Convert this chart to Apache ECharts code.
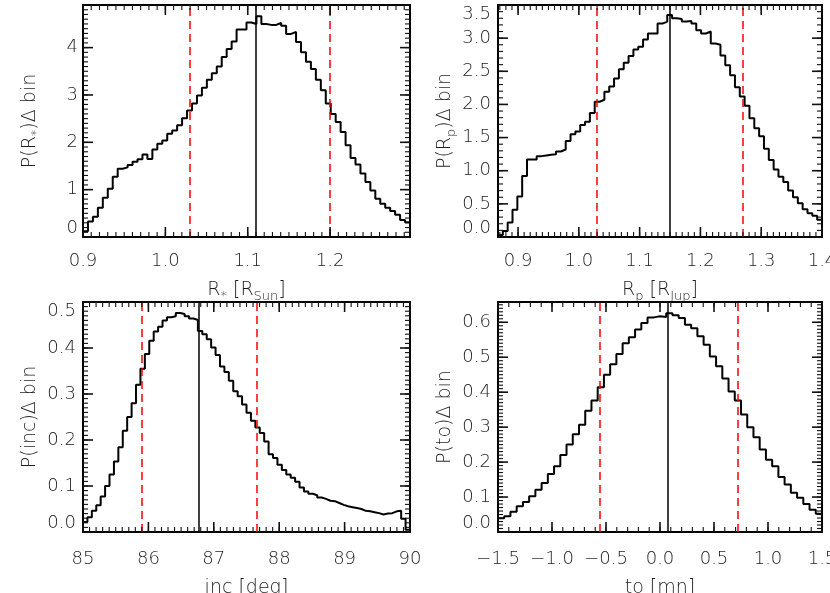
<!DOCTYPE html>
<html>
<head>
<meta charset="utf-8">
<script src="https://cdn.jsdelivr.net/npm/echarts@6/dist/echarts.min.js"></script>
<style>
  html, body { margin: 0; padding: 0; background: #fff; }
  #chart { width: 830px; height: 593px; }
</style>
</head>
<body>
<div id="chart"></div>
<script>
// ---- data ----
// R_star [R_Sun]
var rstarHist = [0.12, 0.33, 0.43, 0.62, 0.83, 1.02, 1.27, 1.44, 1.47, 1.52,
                 1.59, 1.64, 1.74, 1.65, 1.85, 1.97, 2.04, 2.18, 2.25, 2.36,
                 2.51, 2.67, 2.82, 2.99, 3.15, 3.32, 3.46, 3.60, 3.80, 3.97,
                 4.13, 4.38, 4.38, 4.53, 4.50, 4.66, 4.50, 4.48, 4.48, 4.52,
                 4.46, 4.29, 4.33, 4.12, 3.90, 3.70, 3.55, 3.32, 3.10, 2.82,
                 2.60, 2.43, 2.22, 1.94, 1.67, 1.53, 1.34, 1.16, 0.98, 0.81,
                 0.70, 0.62, 0.55, 0.47, 0.36, 0.31];
var rstarRange = [0.9, 1.297];
var rstarYMax = 4.9;
var rstarBest = 1.113;
var rstarLimits = [1.027, 1.199];

// R_p [R_Jup]
var rpHist = [0.03, 0.09, 0.22, 0.41, 0.61, 0.92, 1.17, 1.17, 1.22, 1.23,
              1.24, 1.25, 1.29, 1.32, 1.45, 1.55, 1.59, 1.69, 1.74, 1.87,
              2.04, 2.07, 2.19, 2.27, 2.39, 2.53, 2.63, 2.73, 2.83, 2.87,
              2.98, 3.07, 3.07, 3.22, 3.25, 3.35, 3.30, 3.29, 3.25, 3.26,
              3.22, 3.12, 3.07, 3.10, 2.92, 2.90, 2.74, 2.59, 2.44, 2.26,
              2.12, 1.98, 1.79, 1.64, 1.52, 1.33, 1.16, 1.02, 0.91, 0.83,
              0.70, 0.60, 0.51, 0.42, 0.36, 0.32, 0.26];
var rpRange = [0.867, 1.4];
var rpYMax = 3.5;
var rpBest = 1.150;
var rpLimits = [1.031, 1.269];

// inclination [deg]
var incHist = [0.022, 0.032, 0.046, 0.058, 0.077, 0.100, 0.125, 0.153, 0.184, 0.220,
               0.250, 0.280, 0.320, 0.355, 0.387, 0.416, 0.436, 0.446, 0.460, 0.467,
               0.469, 0.476, 0.474, 0.469, 0.464, 0.461, 0.437, 0.430, 0.419, 0.401,
               0.385, 0.360, 0.348, 0.329, 0.306, 0.295, 0.277, 0.259, 0.242, 0.227,
               0.215, 0.197, 0.169, 0.161, 0.146, 0.135, 0.125, 0.118, 0.109, 0.097,
               0.088, 0.083, 0.080, 0.075, 0.072, 0.068, 0.067, 0.063, 0.059, 0.056,
               0.054, 0.052, 0.050, 0.046, 0.045, 0.043, 0.041, 0.038, 0.040, 0.041,
               0.045, 0.046, 0.029, 0.005];
var incRange = [85, 90];
var incYMax = 0.5;
var incBest = 86.77;
var incLimits = [85.9, 87.65];

// to [mn]
var toHist = [0.039, 0.045, 0.058, 0.074, 0.086, 0.102, 0.121, 0.140, 0.166, 0.188,
              0.220, 0.250, 0.280, 0.307, 0.347, 0.376, 0.414, 0.450, 0.480, 0.509,
              0.540, 0.557, 0.579, 0.598, 0.614, 0.617, 0.615, 0.626, 0.620, 0.612,
              0.593, 0.583, 0.560, 0.536, 0.502, 0.474, 0.439, 0.402, 0.376, 0.336,
              0.300, 0.271, 0.236, 0.207, 0.188, 0.157, 0.136, 0.112, 0.098, 0.080,
              0.064, 0.052];
var toRange = [-1.5, 1.5];
var toYMax = 0.658;
var toBest = 0.07;
var toLimits = [-0.56, 0.72];

// ---- styling ----
var txtColor = '#1e1e1e';
var fontFam = 'DejaVu Sans';
var fontW = 200;

var nameRich = {
    t: { fontSize: 19, fontFamily: fontFam, fontWeight: fontW, color: txtColor, lineHeight: 22, verticalAlign: 'top' },
    s: { fontSize: 13, fontFamily: fontFam, fontWeight: fontW, color: txtColor, lineHeight: 14, padding: [14, 0, 0, 0], verticalAlign: 'bottom' }
};

function fmt(d) {
    return function (v) {
        var s = Math.abs(v).toFixed(d);
        return v < -1e-9 ? '\u2212' + s : s;
    };
}

// histogram -> step line points (left bin edges + closing point)
function stepData(hist, range) {
    var w = (range[1] - range[0]) / hist.length;
    var pts = hist.map(function (v, i) { return [range[0] + i * w, v]; });
    pts.push([range[1], hist[hist.length - 1]]);
    return pts;
}

// multiples of step inside range (frame tick positions)
function multiples(range, step) {
    var out = [];
    var k0 = Math.ceil(range[0] / step - 1e-6), k1 = Math.floor(range[1] / step + 1e-6);
    for (var k = k0; k <= k1; k++) out.push(+(k * step).toFixed(6));
    return out;
}

// xStep null -> let echarts pick (axis min is not a round number there)
var panels = [
    { hist: rstarHist, xr: rstarRange, ymax: rstarYMax, best: rstarBest, lim: rstarLimits,
      xStep: 0.1, yStep: 1, xMinor: 0.01, yMinor: 0.1, xFmt: fmt(1), yFmt: fmt(0),
      xName: '{t|R}{s|*}{t| [R}{s|Sun}{t|]}', yName: '{t|P(R}{s|*}{t|)\u0394 bin}',
      grid: { left: 83, top: 5, width: 327, height: 232 }, xMargin: 15, yMargin: 5, nameGap: 44,
      yMaxTop: false, xMaxLabel: false, autoX: false },
    { hist: rpHist, xr: rpRange, ymax: rpYMax, best: rpBest, lim: rpLimits,
      xStep: 0.1, yStep: 0.5, xMinor: 0.01, yMinor: 0.1, xFmt: fmt(1), yFmt: fmt(1),
      xName: '{t|R}{s|p}{t| [R}{s|Jup}{t|]}', yName: '{t|P(R}{s|p}{t|)\u0394 bin}',
      grid: { left: 498, top: 5, width: 324, height: 232 }, xMargin: 15, yMargin: 7, nameGap: 44,
      yMaxTop: true, xMaxLabel: true, autoX: true },
    { hist: incHist, xr: incRange, ymax: incYMax, best: incBest, lim: incLimits,
      xStep: 1, yStep: 0.1, xMinor: 0.1, yMinor: 0.01, xFmt: fmt(0), yFmt: fmt(1),
      xName: '{t|inc [deg]}', yName: '{t|P(inc)\u0394 bin}',
      grid: { left: 83, top: 302, width: 327, height: 230 }, xMargin: 18, yMargin: 7, nameGap: 47,
      yMaxTop: true, xMaxLabel: true, autoX: false },
    { hist: toHist, xr: toRange, ymax: toYMax, best: toBest, lim: toLimits,
      xStep: 0.5, yStep: 0.1, xMinor: 0.1, yMinor: 0.01, xFmt: fmt(1), yFmt: fmt(1),
      xName: '{t|to [mn]}', yName: '{t|P(to)\u0394 bin}',
      grid: { left: 498, top: 302, width: 324, height: 230 }, xMargin: 18, yMargin: 7, nameGap: 47,
      yMaxTop: false, xMaxLabel: true, autoX: false }
];

var labelStyle = { color: txtColor, fontSize: 18, fontFamily: fontFam, fontWeight: fontW };

function makeAxis(g, range, pos, step, labelOpt, extra) {
    var ax = {
        gridIndex: g, type: 'value', position: pos,
        min: range[0], max: range[1],
        splitLine: { show: false },
        axisLine: { show: true, onZero: false, lineStyle: { color: '#000', width: 2 } },
        axisTick: { show: false },
        minorTick: { show: false },
        axisLabel: labelOpt || { show: false },
        silent: true
    };
    if (step) ax.interval = step;
    if (extra) Object.assign(ax, extra);
    return ax;
}

// IDL-style inward ticks on all four sides, drawn with a custom series
function tickRenderer(p) {
    return function (params, api) {
        var cs = params.coordSys;
        var v = api.value(0), kind = api.value(1);
        var major = kind === 0 || kind === 2;
        var len = major ? 10 : 5;
        var style = { stroke: '#111', lineWidth: major ? 1.6 : 1.1 };
        var lines;
        if (kind < 2) {
            var x = api.coord([v, 0])[0];
            var y0 = cs.y, y1 = cs.y + cs.height;
            lines = [[x, y1, x, y1 - len], [x, y0, x, y0 + len]];
        } else {
            var y = api.coord([p.xr[0], v])[1];
            var x0 = cs.x, x1 = cs.x + cs.width;
            lines = [[x0, y, x0 + len, y], [x1, y, x1 - len, y]];
        }
        return {
            type: 'group',
            children: lines.map(function (l) {
                return { type: 'line', shape: { x1: l[0], y1: l[1], x2: l[2], y2: l[3] }, style: style, silent: true };
            })
        };
    };
}

var grids = [], xAxes = [], yAxes = [], series = [];
panels.forEach(function (p, g) {
    grids.push(Object.assign({ outerBoundsMode: 'none', containLabel: false }, p.grid));
    var xr = p.xr, yr = [0, p.ymax];

    var xLab = Object.assign({ show: true, formatter: p.xFmt, margin: p.xMargin,
                               showMinLabel: !p.autoX, showMaxLabel: p.xMaxLabel }, labelStyle);
    var yLab = Object.assign({ show: true, formatter: p.yFmt, margin: p.yMargin,
                               verticalAlignMinLabel: 'bottom', showMaxLabel: p.yMaxTop }, labelStyle);
    if (p.yMaxTop) yLab.verticalAlignMaxLabel = 'top';

    var xAxisStep = p.autoX ? null : p.xStep;
    xAxes.push(makeAxis(g, xr, 'bottom', xAxisStep, xLab,
        { name: p.xName, nameLocation: 'middle', nameGap: p.nameGap, nameTextStyle: { rich: nameRich } }));
    xAxes.push(makeAxis(g, xr, 'top', xAxisStep));

    yAxes.push(makeAxis(g, yr, 'left', p.yStep, yLab,
        { name: p.yName, nameLocation: 'middle', nameGap: 40, nameRotate: 90, nameTextStyle: { rich: nameRich } }));
    yAxes.push(makeAxis(g, yr, 'right', p.yStep));

    var dashed = { color: '#ff0000', type: [8, 5], width: 1.5 };
    series.push({
        type: 'line', xAxisIndex: 2 * g, yAxisIndex: 2 * g,
        data: stepData(p.hist, xr), step: 'end', symbol: 'none',
        lineStyle: { color: '#000', width: 2 }, clip: true, silent: true,
        markLine: {
            silent: true, symbol: ['none', 'none'], label: { show: false }, animation: false,
            data: [
                { xAxis: p.lim[0], lineStyle: dashed },
                { xAxis: p.lim[1], lineStyle: dashed },
                { xAxis: p.best, lineStyle: { color: '#000', type: 'solid', width: 1.5 } }
            ]
        }
    });

    // tick list: [value, kind] kind 0 x-major, 1 x-minor, 2 y-major, 3 y-minor
    var ticks = [];
    multiples(xr, p.xStep).forEach(function (v) { ticks.push([v, 0]); });
    multiples(xr, p.xMinor).forEach(function (v) { ticks.push([v, 1]); });
    multiples(yr, p.yStep).forEach(function (v) { ticks.push([v, 2]); });
    multiples(yr, p.yMinor).forEach(function (v) { ticks.push([v, 3]); });
    series.push({
        type: 'custom', xAxisIndex: 2 * g, yAxisIndex: 2 * g,
        coordinateSystem: 'cartesian2d',
        data: ticks, renderItem: tickRenderer(p),
        encode: { x: 0 }, clip: false, silent: true, z: 5, animation: false
    });
});

var chart = echarts.init(document.getElementById('chart'), null, { renderer: 'canvas' });
chart.setOption({
    backgroundColor: '#fff',
    animation: false,
    grid: grids,
    xAxis: xAxes,
    yAxis: yAxes,
    series: series
});
</script>
</body>
</html>
